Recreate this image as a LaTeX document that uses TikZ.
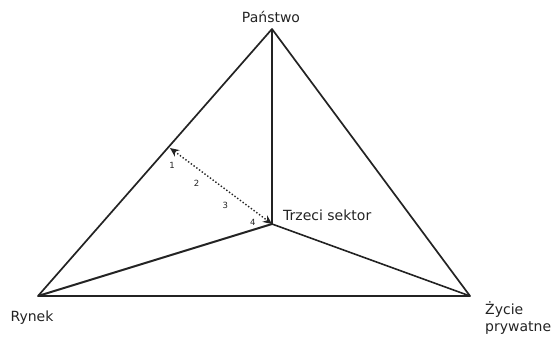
\documentclass[tikz,border=0pt]{standalone}
\usepackage{fontspec}
\setmainfont{DejaVu Sans}
\usepackage{tikz}
\usetikzlibrary{positioning,arrows.meta}
\definecolor{edgegray}{RGB}{35,35,35}

\begin{document}
\begin{tikzpicture}[
            x=1pt, y=-1pt,
            side/.style={line width=1.7pt, edgegray, line join=round},
            spoke/.style={line width=1.6pt, edgegray},
            lbl/.style={font=\fontsize{14}{17}\selectfont, text=edgegray, inner sep=1pt},
            num/.style={font=\fontsize{8.5}{10}\selectfont, text=edgegray, inner sep=0pt},
            gauge/.style={line width=1.4pt, dotted, edgegray, {Stealth[length=9pt,width=8pt]}-{Stealth[length=9pt,width=8pt]}},
        ]
            \useasboundingbox (0,0) rectangle (552,338);
            \coordinate (P) at (272, 29);
            \coordinate (R) at (38, 296);
            \coordinate (Z) at (470, 296);
            \coordinate (T) at (272, 224);
            \coordinate (S) at (170, 148);

            \node[lbl] (Plbl) at (271, 17) {Państwo};
            \node[lbl] (Rlbl) at (32, 318) {Rynek};
            \node[lbl, align=left, anchor=north west] (Zlbl) at (484, 300) {Życie\\prywatne};
            \node[lbl, anchor=west] (Tlbl) at (282, 215) {Trzeci sektor};

            % outer triangle
            \draw[side] (P) -- (R) -- (Z) -- cycle;
            % spokes to the centre
            \draw[spoke] (P) -- (T);
            \draw[spoke, line width=2pt] (R) -- (T);
            \draw[spoke] (Z) -- (T);
            % graded scale
            \draw[gauge] (S) -- (T)
                node[num, pos=0.10, xshift=-8pt, yshift=-10pt] (n1) {1}
                node[num, pos=0.34, xshift=-8pt, yshift=-10pt] (n2) {2}
                node[num, pos=0.62, xshift=-8pt, yshift=-10pt] (n3) {3}
                node[num, pos=0.87, xshift=-6pt, yshift=-8pt] (n4) {4};
        \end{tikzpicture}
\end{document}
